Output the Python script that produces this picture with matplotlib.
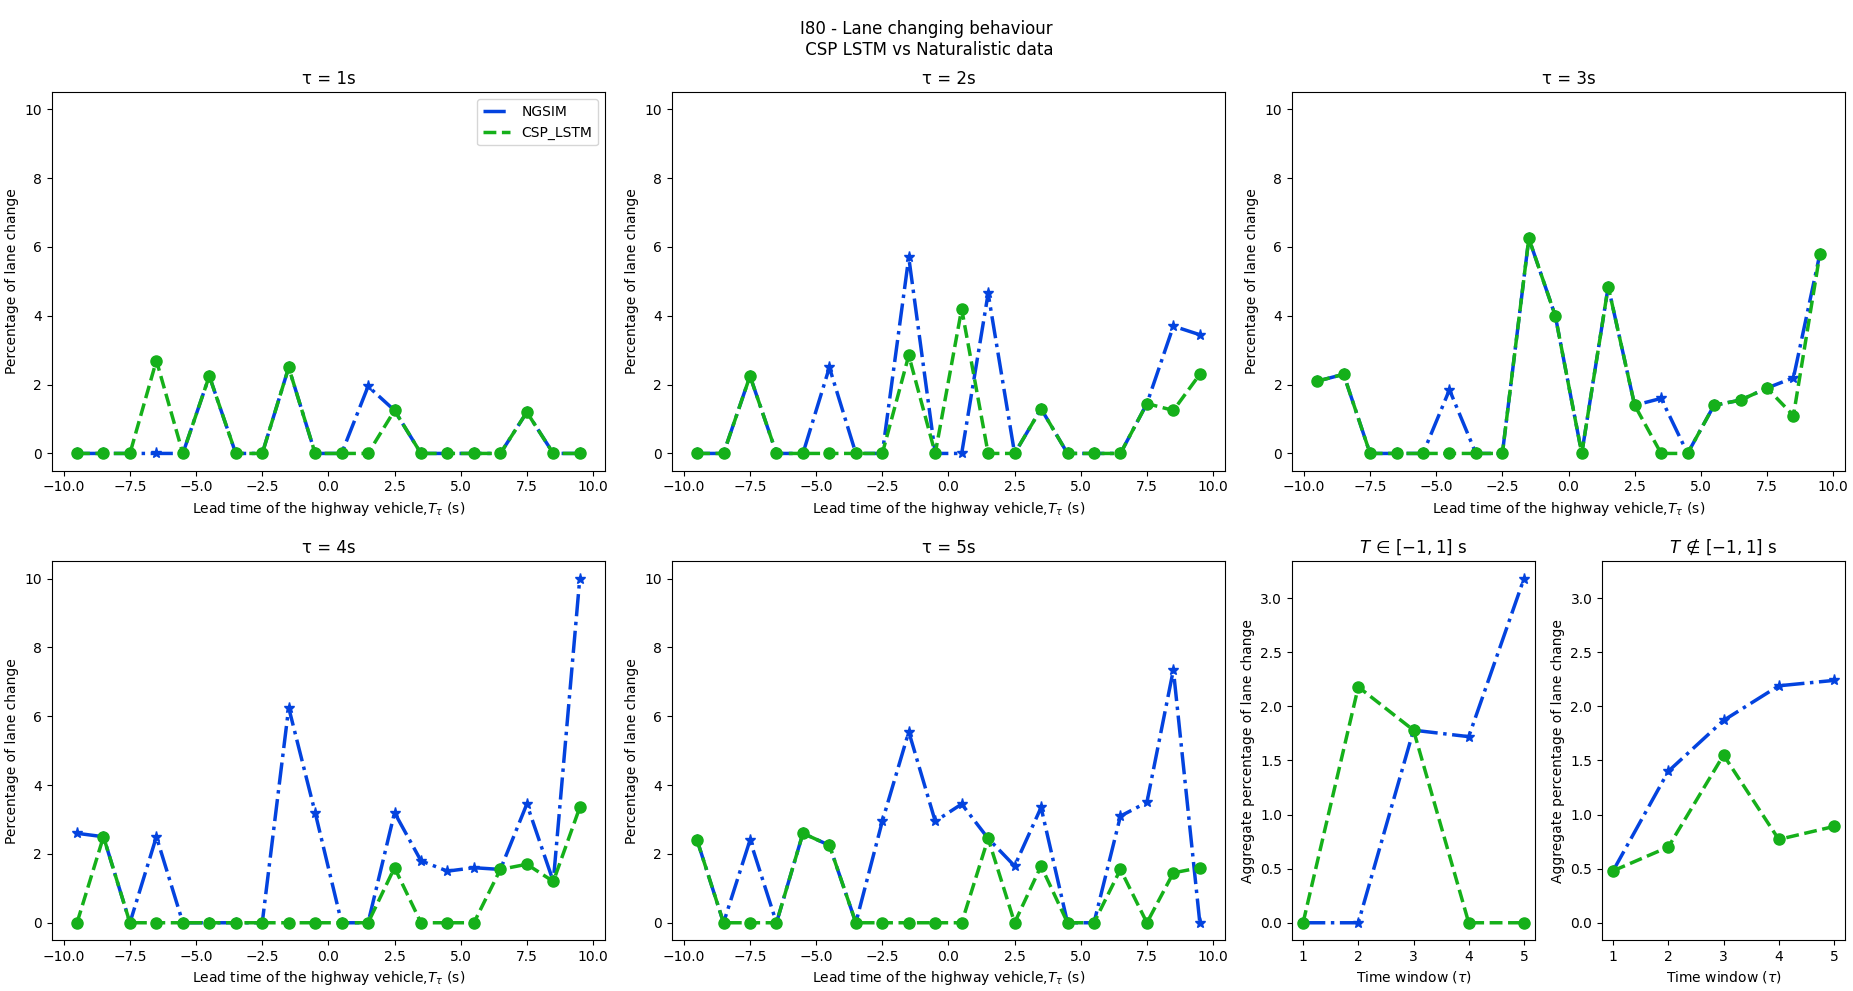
import numpy as np
import matplotlib
matplotlib.use("Agg")
import matplotlib.pyplot as plt
from matplotlib.gridspec import GridSpec
from matplotlib.lines import Line2D

# Lead time bins (s)
lead_times = [-9.5, -8.5, -7.5, -6.5, -5.5, -4.5, -3.5, -2.5, -1.5, -0.5,
              0.5, 1.5, 2.5, 3.5, 4.5, 5.5, 6.5, 7.5, 8.5, 9.5]

# Percentage of lane change per time window (NGSIM vs CSP_LSTM)
ngsim_t1 = [0, 0, 0, 0, 0, 2.25, 0, 0, 2.5, 0, 0, 1.95, 1.25, 0, 0, 0, 0, 1.2, 0, 0]
csp_t1 = [0, 0, 0, 2.7, 0, 2.25, 0, 0, 2.5, 0, 0, 0, 1.25, 0, 0, 0, 0, 1.2, 0, 0]

ngsim_t2 = [0, 0, 2.25, 0, 0, 2.5, 0, 0, 5.7, 0, 0, 4.65, 0, 1.3, 0, 0, 0, 1.45, 3.7, 3.45]
csp_t2 = [0, 0, 2.25, 0, 0, 0, 0, 0, 2.85, 0, 4.2, 0, 0, 1.3, 0, 0, 0, 1.45, 1.25, 2.3]

ngsim_t3 = [2.1, 2.3, 0, 0, 0, 1.85, 0, 0, 6.25, 4.0, 0, 4.85, 1.4, 1.6, 0, 1.4, 1.55, 1.9, 2.2, 5.8]
csp_t3 = [2.1, 2.3, 0, 0, 0, 0, 0, 0, 6.25, 4.0, 0, 4.85, 1.4, 0, 0, 1.4, 1.55, 1.9, 1.1, 5.8]

ngsim_t4 = [2.6, 2.5, 0, 2.5, 0, 0, 0, 0, 6.25, 3.2, 0, 0, 3.2, 1.8, 1.5, 1.6, 1.55, 3.45, 1.2, 10.0]
csp_t4 = [0, 2.5, 0, 0, 0, 0, 0, 0, 0, 0, 0, 0, 1.6, 0, 0, 0, 1.55, 1.7, 1.2, 3.35]

ngsim_t5 = [2.4, 0, 2.4, 0, 2.6, 2.25, 0, 2.95, 5.55, 2.95, 3.45, 2.45, 1.65, 3.35, 0, 0, 3.1, 3.5, 7.35, 0]
csp_t5 = [2.4, 0, 0, 0, 2.6, 2.25, 0, 0, 0, 0, 0, 2.45, 0, 1.65, 0, 0, 1.55, 0, 1.45, 1.6]

# Aggregates per time window
time_windows = [1, 2, 3, 4, 5]
ngsim_in = [0, 0, 1.78, 1.72, 3.18]
csp_in = [0, 2.18, 1.78, 0, 0]
ngsim_out = [0.48, 1.4, 1.87, 2.19, 2.24]
csp_out = [0.48, 0.7, 1.55, 0.77, 0.89]

BLUE = "#0343df"
GREEN = "#15b01a"


def plot_pair(ax, x, ngsim, csp):
    ax.plot(x, ngsim, color=BLUE, linestyle="-.", marker="*", linewidth=2.5, markersize=8)
    ax.plot(x, csp, color=GREEN, linestyle="--", marker="o", linewidth=2.5, markersize=8)


fig = plt.figure(figsize=(18.53, 9.91), dpi=100)
gs = GridSpec(2, 6, figure=fig, left=0.028, right=0.9957, top=0.907, bottom=0.0515,
              wspace=0.276, hspace=0.24)

panels = [
    (gs[0, 0:2], ngsim_t1, csp_t1, 1),
    (gs[0, 2:4], ngsim_t2, csp_t2, 2),
    (gs[0, 4:6], ngsim_t3, csp_t3, 3),
    (gs[1, 0:2], ngsim_t4, csp_t4, 4),
    (gs[1, 2:4], ngsim_t5, csp_t5, 5),
]

axes = []
for spec, ngsim, csp, tau in panels:
    ax = fig.add_subplot(spec)
    plot_pair(ax, lead_times, ngsim, csp)
    ax.set_title(f"τ = {tau}s")
    ax.set_xlabel(r"Lead time of the highway vehicle,$T_{\tau}$ (s)")
    ax.set_ylabel("Percentage of lane change")
    ax.set_ylim(-0.5, 10.5)
    ax.set_xticks([-10, -7.5, -5, -2.5, 0, 2.5, 5, 7.5, 10])
    axes.append(ax)

handles = [Line2D([0], [0], color=BLUE, linestyle="-.", linewidth=2.5, label="NGSIM"),
           Line2D([0], [0], color=GREEN, linestyle="--", linewidth=2.5, label="CSP_LSTM")]
axes[0].legend(handles=handles, loc="upper right")

ax_in = fig.add_subplot(gs[1, 4])
plot_pair(ax_in, time_windows, ngsim_in, csp_in)
ax_in.set_title(r"$T\,\in\,[-1, 1]$ s")

ax_out = fig.add_subplot(gs[1, 5], sharey=ax_in)
plot_pair(ax_out, time_windows, ngsim_out, csp_out)
ax_out.set_title(r"$T\,\notin\,[-1, 1]$ s")

for ax in (ax_in, ax_out):
    ax.set_xticks(time_windows)
    ax.set_xlabel(r"Time window ($\tau$)")
    ax.set_ylabel("Aggregate percentage of lane change")
    ax.tick_params(labelleft=True)

fig.suptitle("I80 - Lane changing behaviour\n CSP LSTM vs Naturalistic data")

plt.savefig("out.png", dpi=100)
plt.close()
